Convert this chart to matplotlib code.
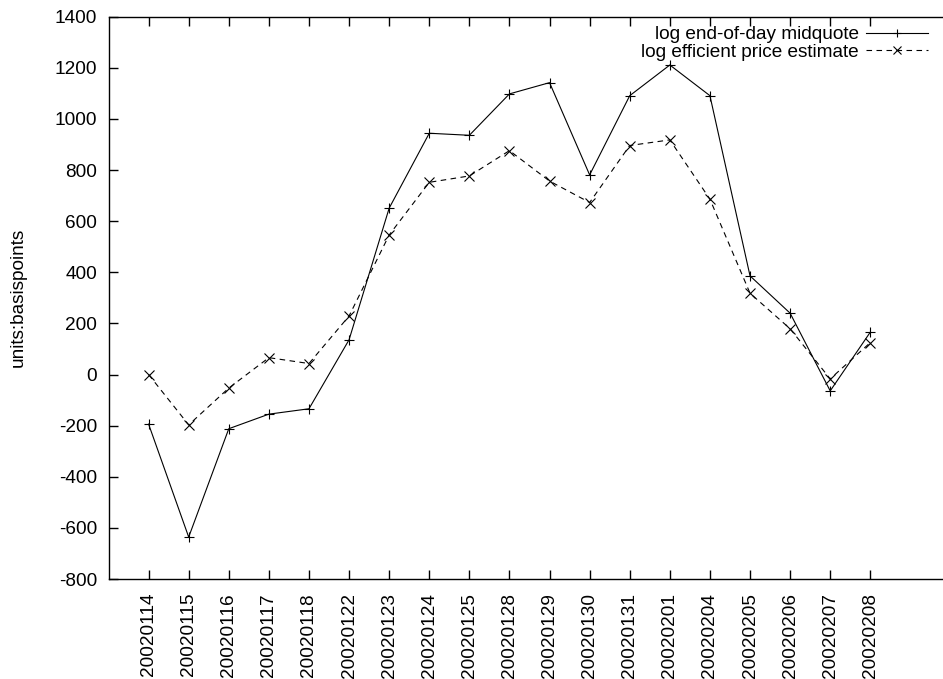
import numpy as np
import matplotlib
matplotlib.use('Agg')
import matplotlib.pyplot as plt

plt.rcParams['font.family'] = ['Liberation Sans', 'DejaVu Sans']
plt.rcParams['axes.unicode_minus'] = False

dates = ['20020114', '20020115', '20020116', '20020117', '20020118',
         '20020122', '20020123', '20020124', '20020125', '20020128',
         '20020129', '20020130', '20020131', '20020201', '20020204',
         '20020205', '20020206', '20020207', '20020208']

midquote = [-194, -636, -212, -155, -134, 136, 651, 944, 936, 1098,
            1142, 781, 1091, 1211, 1091, 386, 240, -64, 166]

efficient = [0, -197, -53, 66, 43, 229, 546, 752, 777, 876,
             757, 673, 896, 918, 686, 318, 179, -17, 125]

fs = 13.7
fig = plt.figure(figsize=(9.43, 6.79), dpi=100)
ax = fig.add_axes([108.5/943, 100/679, 842/943, 562.3/679])

x = np.arange(len(dates))
ax.plot(x, midquote, color='black', lw=0.8, marker='+', ms=7, mew=0.8,
        label='log end-of-day midquote')
ax.plot(x, efficient, color='black', lw=0.8, ls=(0, (5, 4)), marker='x', ms=6.5, mew=0.8,
        label='log efficient price estimate')

ax.set_xlim(-1, 20)
ax.set_ylim(-800, 1400)
ax.set_yticks(np.arange(-800, 1401, 200))
ax.set_xticks(x)
ax.set_xticklabels(dates, rotation=90, fontsize=fs)
ax.tick_params(axis='both', direction='in', length=6.5, width=1,
               top=True, right=False, labelsize=fs)
ax.tick_params(axis='y', pad=8.3)
ax.tick_params(axis='x', pad=10)
for s in ax.spines.values():
    s.set_linewidth(1.0)

ax.set_ylabel('units:basispoints', fontsize=fs)
ax.yaxis.set_label_coords(-0.097, 0.5)

leg = ax.legend(loc='upper right', bbox_to_anchor=(928/943, 1 - 26/679),
                bbox_transform=fig.transFigure, frameon=False, markerfirst=False,
                fontsize=fs, handlelength=3.25, handletextpad=0.4, labelspacing=0.0,
                borderpad=0, borderaxespad=0, numpoints=1, markerscale=0.8)

fig.savefig('out.png', dpi=100)
